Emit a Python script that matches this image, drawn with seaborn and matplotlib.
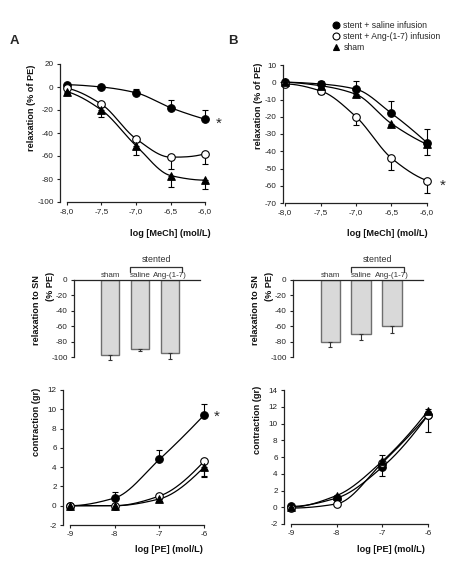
import numpy as np
import pandas as pd
import seaborn as sns
import matplotlib.pyplot as plt
from matplotlib.lines import Line2D
from matplotlib.ticker import FuncFormatter

# concentrations
mech_x = [-8.0, -7.5, -7.0, -6.5, -6.0]
pe_x = [-9, -8, -7, -6]
group_names = ["stent + saline infusion", "stent + Ang-(1-7) infusion", "sham"]

# A - relaxation to MeCh (% of PE)
mech_a_saline = [2, 0, -5, -18, -28]
mech_a_ang = [-1, -15, -45, -61, -58]
mech_a_sham = [-4, -20, -51, -77, -81]
mech_a_saline_err = [1, 1, 3, 7, 8]
mech_a_ang_err = [1, 2, 3, 10, 9]
mech_a_sham_err = [1, 6, 8, 10, 8]

# B - relaxation to MeCh (% of PE)
mech_b_saline = [0, -1, -4, -18, -35]
mech_b_ang = [-1, -5, -20, -44, -57]
mech_b_sham = [0, -2, -7, -24, -36]
mech_b_saline_err = [1, 2, 5, 7, 8]
mech_b_ang_err = [1, 2, 5, 7, 7]
mech_b_sham_err = [0, 0, 1, 1, 6]

# relaxation to SN (% PE)
bar_labels = ["sham", "saline", "Ang-(1-7)"]
sn_a = [-97, -89, -95]
sn_a_err = [7, 3, 7]
sn_b = [-80, -70, -60]
sn_b_err = [7, 7, 8]

# contraction to PE (gr)
pe_a_saline = [0, 0.8, 4.8, 9.4]
pe_a_ang = [0, 0, 1.0, 4.6]
pe_a_sham = [0, 0, 0.7, 4.0]
pe_a_saline_err = [0, 0.6, 1.0, 1.1]
pe_a_ang_err = [0, 0, 0.5, 1.5]
pe_a_sham_err = [0, 0, 0.2, 1.0]

pe_b_saline = [0.1, 1.1, 4.8, 11.0]
pe_b_ang = [-0.1, 0.4, 5.3, 11.0]
pe_b_sham = [0.0, 1.4, 5.5, 11.5]
pe_b_saline_err = [0, 0.3, 1.4, 0.7]
pe_b_ang_err = [0, 0.2, 1.6, 2.0]
pe_b_sham_err = [0, 0.3, 0.5, 0.5]

sns.set_style("ticks")
plt.rcParams["font.family"] = ["Liberation Sans", "DejaVu Sans"]
plt.rcParams["axes.unicode_minus"] = False

W, H = 460, 574
fig = plt.figure(figsize=(W / 100, H / 100), dpi=100)

TICK_FS = 5.9
LAB_FS = 6.6
styles = {
    group_names[0]: dict(marker="o", mfc="black", dirn=1),
    group_names[1]: dict(marker="o", mfc="white", dirn=-1),
    group_names[2]: dict(marker="^", mfc="black", dirn=-1),
}


def px_axes(x0, y0, x1, y1):
    return fig.add_axes([x0 / W, 1 - y1 / H, (x1 - x0) / W, (y1 - y0) / H])


def smooth(x, y, n=200):
    # shape-preserving cubic through the means (just for drawing the curve)
    x = np.asarray(x, float)
    y = np.asarray(y, float)
    h = np.diff(x)
    d = np.diff(y) / h
    m = np.zeros_like(y)
    for k in range(1, len(x) - 1):
        if d[k - 1] * d[k] > 0:
            w1 = 2 * h[k] + h[k - 1]
            w2 = h[k] + 2 * h[k - 1]
            m[k] = (w1 + w2) / (w1 / d[k - 1] + w2 / d[k])
    for end, (i0, i1) in ((0, (0, 1)), (-1, (-1, -2))):
        s = ((2 * h[i0] + h[i1]) * d[i0] - h[i0] * d[i1]) / (h[i0] + h[i1])
        if np.sign(s) != np.sign(d[i0]):
            s = 0.0
        elif np.sign(d[i0]) != np.sign(d[i1]) and abs(s) > abs(3 * d[i0]):
            s = 3 * d[i0]
        m[end] = s
    xs = np.linspace(x[0], x[-1], n)
    i = np.clip(np.searchsorted(x, xs) - 1, 0, len(h) - 1)
    t = (xs - x[i]) / h[i]
    h00 = 2 * t**3 - 3 * t**2 + 1
    h10 = t**3 - 2 * t**2 + t
    h01 = -2 * t**3 + 3 * t**2
    h11 = t**3 - t**2
    ys = h00 * y[i] + h10 * h[i] * m[i] + h01 * y[i + 1] + h11 * h[i] * m[i + 1]
    return xs, ys


def curve_panel(ax, x, series, errs):
    for name, y, e in zip(group_names, series, errs):
        st = styles[name]
        xs, ys = smooth(x, y)
        ax.plot(xs, ys, color="black", lw=0.9, zorder=2, clip_on=False)
        e = np.asarray(e, float)
        lo = e if st["dirn"] < 0 else np.zeros_like(e)
        hi = e if st["dirn"] > 0 else np.zeros_like(e)
        ax.errorbar(x, y, yerr=[lo, hi], fmt="none", ecolor="black",
                    elinewidth=0.8, capsize=2, capthick=0.8, zorder=3, clip_on=False)
    df = pd.DataFrame({
        "x": list(x) * 3,
        "y": [v for s in series for v in s],
        "group": [g for g in group_names for _ in x],
    })
    for name in group_names:
        st = styles[name]
        sns.scatterplot(data=df[df.group == name], x="x", y="y", ax=ax,
                        marker=st["marker"], color=st["mfc"], edgecolor="black",
                        linewidth=0.8, s=30, zorder=4, clip_on=False, legend=False)
    ax.set_xlabel("")
    ax.set_ylabel("")
    sns.despine(ax=ax)
    ax.tick_params(labelsize=TICK_FS, length=2.5, width=0.8, pad=2, colors="#222222")
    for sp in ("left", "bottom"):
        ax.spines[sp].set_linewidth(0.9)
        ax.spines[sp].set_color("#222222")


# ---- top row: MeCh curves ----
ax_a1 = px_axes(60, 64, 212, 202)
curve_panel(ax_a1, mech_x, [mech_a_saline, mech_a_ang, mech_a_sham],
            [mech_a_saline_err, mech_a_ang_err, mech_a_sham_err])
ax_a1.set_xlim(-8.1, -5.9)
ax_a1.set_ylim(-100, 20)
ax_a1.set_yticks(range(-100, 21, 20))

ax_b1 = px_axes(283, 65, 434, 203)
curve_panel(ax_b1, mech_x, [mech_b_saline, mech_b_ang, mech_b_sham],
            [mech_b_saline_err, mech_b_ang_err, mech_b_sham_err])
ax_b1.set_xlim(-8.03, -5.9)
ax_b1.set_ylim(-70, 10)
ax_b1.set_yticks(range(-70, 11, 10))

for ax in (ax_a1, ax_b1):
    ax.set_xticks(mech_x)
    ax.xaxis.set_major_formatter(FuncFormatter(lambda v, p: f"{v:.1f}".replace(".", ",")))
    ax.spines["bottom"].set_bounds(-8, -6)

# ---- middle row: SN bars ----
for box, vals, errs in (((74, 280, 200, 365), sn_a, sn_a_err),
                        ((293, 280, 423, 365), sn_b, sn_b_err)):
    ax = px_axes(*box)
    bdf = pd.DataFrame({"grp": bar_labels, "val": vals})
    sns.barplot(data=bdf, x="grp", y="val", ax=ax, color="#d9d9d9",
                edgecolor="#6e6e6e", linewidth=1.0, width=0.62, saturation=1, errorbar=None)
    ax.errorbar(range(3), vals, yerr=[errs, [0, 0, 0]], fmt="none", ecolor="#333333",
                elinewidth=0.8, capsize=1.5, capthick=0.8)
    ax.set_xlim(-1.2, 3.0)
    ax.set_ylim(-110, 0)
    ax.set_yticks(range(-100, 1, 20))
    ax.set_xticks([])
    ax.set_xlabel("")
    ax.set_ylabel("")
    for sp in ("right", "bottom"):
        ax.spines[sp].set_visible(False)
    ax.spines["top"].set_visible(True)
    ax.spines["top"].set_linewidth(0.9)
    ax.spines["left"].set_bounds(-100, 0)
    ax.spines["left"].set_linewidth(0.9)
    ax.tick_params(labelsize=TICK_FS, length=2.5, width=0.8, pad=2, colors="#222222")
    for i, lab in enumerate(bar_labels):
        ax.text(i, 1.2, lab, ha="center", va="bottom", fontsize=5.8, color="#333333", clip_on=False)
    ax.plot([0.68, 0.68, 2.4, 2.4], [10, 17, 17, 10], color="#333333", lw=0.9, clip_on=False)
    ax.text(1.54, 21, "stented", ha="center", va="bottom", fontsize=6.4, color="#333333")

# ---- bottom row: PE curves ----
ax_a3 = px_axes(63, 390, 211, 525)
curve_panel(ax_a3, pe_x, [pe_a_saline, pe_a_ang, pe_a_sham],
            [pe_a_saline_err, pe_a_ang_err, pe_a_sham_err])
ax_a3.set_ylim(-2, 12)
ax_a3.set_yticks(range(-2, 13, 2))

ax_b3 = px_axes(284, 390, 435, 524)
curve_panel(ax_b3, pe_x, [pe_b_saline, pe_b_ang, pe_b_sham],
            [pe_b_saline_err, pe_b_ang_err, pe_b_sham_err])
ax_b3.set_ylim(-2, 14)
ax_b3.set_yticks(range(-2, 15, 2))

for ax in (ax_a3, ax_b3):
    ax.set_xlim(-9.155, -5.845)
    ax.set_xticks(pe_x)
    ax.spines["bottom"].set_bounds(-9, -6)

# ---- text ----
def ftext(x, y, s, **kw):
    fig.text(x / W, 1 - y / H, s, **kw)


bold = dict(fontsize=LAB_FS, fontweight="bold", color="#111111", ha="center", va="center")
ftext(14, 41, "A", fontsize=9.5, fontweight="bold", ha="center", va="center")
ftext(233, 41, "B", fontsize=9.5, fontweight="bold", ha="center", va="center")
ftext(32, 108, "relaxation (% of PE)", rotation=90, **bold)
ftext(259, 106, "relaxation (% of PE)", rotation=90, **bold)
ftext(170, 233, "log [MeCh] (mol/L)", **bold)
ftext(387, 233, "log [MeCh] (mol/L)", **bold)
# two-line bar label, both lines flush at the top
for x1, x2 in ((37, 51), (256, 270)):
    ftext(x1, 275, "relaxation to SN", rotation=90, **{**bold, "va": "top"})
    ftext(x2, 272, "(% PE)", rotation=90, **{**bold, "va": "top"})
ftext(37, 422, "contraction (gr)", rotation=90, **bold)
ftext(258, 420, "contraction (gr)", rotation=90, **bold)
ftext(169, 549, "log [PE] (mol/L)", **bold)
ftext(391, 549, "log [PE] (mol/L)", **bold)
ftext(219, 124, "*", fontsize=11, ha="center", va="center")
ftext(443, 186, "*", fontsize=11, ha="center", va="center")
ftext(217, 417, "*", fontsize=11, ha="center", va="center")

handles = [Line2D([], [], ls="none", marker=styles[g]["marker"], mfc=styles[g]["mfc"],
                  mec="black", mew=0.8, ms=5) for g in group_names]
fig.legend(handles, group_names, loc="upper left", bbox_to_anchor=(333 / W, 1 - 21 / H),
           frameon=False, fontsize=6.2, handlelength=0.8, handletextpad=0.4,
           labelspacing=0.25, borderpad=0, borderaxespad=0)

fig.savefig("out.png", dpi=100)
